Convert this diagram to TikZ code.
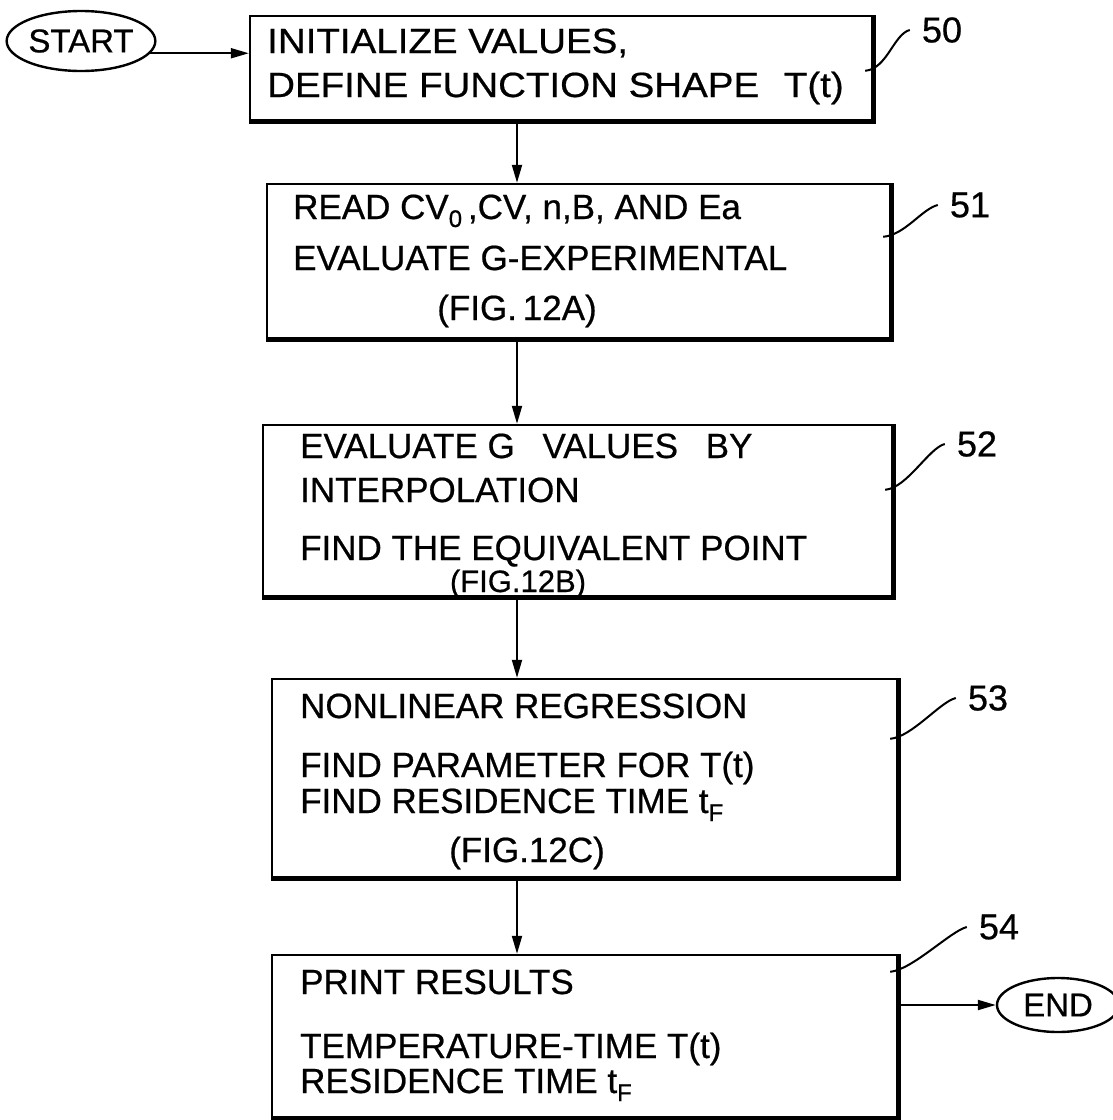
\documentclass[tikz,border=0pt]{standalone}
\usepackage{fontspec}
\setmainfont{Liberation Sans}[FakeBold=0.6]
\newfontfamily\widehand{Liberation Sans}[FakeBold=0.6,FakeStretch=1.1]
\usetikzlibrary{shapes.geometric,arrows.meta}

\newcommand{\lowsub}[1]{\raisebox{-8pt}{\fontsize{24}{24}\selectfont #1}}

\tikzset{
  stepbox/.style={draw, line width=2.4pt, inner sep=0pt},
  term/.style={draw, ellipse, line width=2.4pt, inner sep=0pt, font=\fontsize{33}{33}\selectfont},
  txt/.style={anchor=base west, inner sep=0pt, font=\fontsize{35}{35}\selectfont},
  widetxt/.style={txt, font=\widehand\fontsize{35}{35}\selectfont},
  figref/.style={txt, anchor=base},
  refnum/.style={inner sep=12pt, font=\fontsize{36}{36}\selectfont},
  flow/.style={line width=2pt, -{Triangle[length=18pt,width=10pt]}},
  leader/.style={line width=2pt},
}

\begin{document}
\begin{tikzpicture}[x=1pt, y=-1pt]
  \useasboundingbox (0,0) rectangle (1113,1120);

  % terminals
  \node[term, minimum width=148pt, minimum height=60pt] (start) at (81,41) {START};
  \node[term, minimum width=122pt, minimum height=54pt] (stop) at (1058,1005) {END};

  % process boxes (centre, size)
  \node[stepbox, minimum width=622pt, minimum height=104pt] (b50) at (561,68) {};
  \node[stepbox, minimum width=623pt, minimum height=154pt] (b51) at (578.5,261) {};
  \node[stepbox, minimum width=629pt, minimum height=171pt] (b52) at (577.5,510.5) {};
  \node[stepbox, minimum width=625pt, minimum height=198pt] (b53) at (584.5,778) {};
  \node[stepbox, minimum width=625pt, minimum height=162pt] (b54) at (584.5,1036) {};
  \foreach \b in {b50,b51,b52,b53,b54}
    \draw[line width=5pt] (\b.south west) -- (\b.south east) -- (\b.north east);

  % box texts
  \node[widetxt] (t50a) at (267,53) {INITIALIZE VALUES,};
  \node[widetxt] (t50b) at (267,97) {DEFINE FUNCTION SHAPE\hspace{14pt} T(t)};

  \node[txt] (t51a) at (293,219) {READ CV\lowsub{0}\,,CV, n,B, AND Ea};
  \node[txt] (t51b) at (293,270) {EVALUATE G-EXPERIMENTAL};
  \node[figref] (t51c) at (517,320) {(FIG.\,12A)};

  \node[txt] (t52a) at (300,458) {EVALUATE G\hspace{18pt} VALUES\hspace{18pt} BY};
  \node[txt] (t52b) at (300,502) {INTERPOLATION};
  \node[txt] (t52c) at (300,560) {FIND THE EQUIVALENT POINT};
  \node[figref, font=\fontsize{31}{31}\selectfont] (t52d) at (518,592) {(FIG.12B)};

  \node[txt] (t53a) at (300,718) {NONLINEAR REGRESSION};
  \node[txt] (t53b) at (300,777) {FIND PARAMETER FOR T(t)};
  \node[txt] (t53c) at (300,813) {FIND RESIDENCE TIME t\lowsub{F}};
  \node[figref] (t53d) at (527,862) {(FIG.12C)};

  \node[txt] (t54a) at (300,994) {PRINT RESULTS};
  \node[txt] (t54b) at (300,1058) {TEMPERATURE-TIME T(t)};
  \node[txt] (t54c) at (300,1093) {RESIDENCE TIME t\lowsub{F}};

  % flow
  \coordinate (spine) at (517,0);
  \draw[flow] (start.-10) -- (start.-10 -| b50.west);
  \foreach \a/\b in {b50/b51,b51/b52,b52/b53,b53/b54}
    \draw[flow] (\a.south -| spine) -- (\b.north -| spine);
  \draw[flow] (b54.east |- stop) -- (stop.west);

  % reference numerals
  \node[refnum] (r50) at (942,30) {50};
  \node[refnum] (r51) at (970,205) {51};
  \node[refnum] (r52) at (977,444) {52};
  \node[refnum] (r53) at (988,698) {53};
  \node[refnum] (r54) at (999,927) {54};
  \foreach \b/\r/\d in {b50/r50/56,b51/r51/54,b52/r52/66,b53/r53/61,b54/r54/18}
    \draw[leader] ([xshift=-8pt,yshift=-\d pt]\b.north east)
      .. controls +(22,-2) and +(-16,4) .. (\r.west);
\end{tikzpicture}
\end{document}
